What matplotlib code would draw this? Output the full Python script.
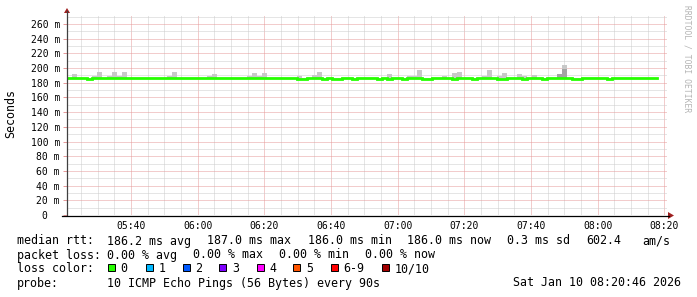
import numpy as np
import matplotlib.pyplot as plt
from matplotlib.patches import Rectangle, Polygon
from matplotlib.lines import Line2D

# 90 s samples, 05:20:46 -> 08:20:46 (minutes of day)
start = 5 * 60 + 20 + 46 / 60.
step = 1.5

nan = np.nan
median = [
    186, 186, 186, 186, 185.3, 186, 186, 186, 186, 186, 186, 186, 186, 186, 186, 186, 186, 186, 186, 186,
    186, 186, 186, 186, 186, 186, 186, 186, 186, 186, 186, 186, 186, 186, 186, 186, 186, 186, 186, 186,
    186, 186, 186, 186, 186, 186, 185.3, 185.3, 186, 186, 186, 185.3, 186, 185.3, 185.3, 186, 186, 185.3, 186, 186,
    186, 186, 185.3, 186, 185.3, 186, 186, 185.3, 186, 186, 186, 185.3, 185.3, 186, 186, 186, 186, 185.3, 186, 186,
    186, 185.3, 186, 186, 186, 186, 185.3, 185.3, 186, 186, 186, 185.3, 186, 186, 186, 185.3, 186, 186, 186, 186,
    186, 185.3, 185.3, 186, 186, 186, 186, 186, 185.3, 186, 186, 186, 186, 186, 186, 186, 186, 186, nan, nan,
]
smoke_top = [
    187, 192, 187, 187, 187, 189, 195, 187, 189, 195, 189, 195, 187, 187, 187, 187, 187, 187, 187, 187,
    189, 195, 187, 187, 187, 187, 187, 187, 189, 192, 187, 187, 187, 187, 187, 187, 189, 193, 189, 193,
    187, 187, 187, 187, 187, 187, 189, 187, 187, 190, 195, 187, 187, 187, 187, 187, 187, 187, 187, 187,
    187, 187, 187, 187, 192, 187, 187, 187, 189, 189, 197, 187, 187, 187, 187, 189, 187, 193, 195, 187,
    187, 187, 187, 189, 197, 187, 189, 193, 187, 187, 192, 189, 187, 190, 187, 187, 187, 187, 192, 204,
    187, 187, 187, 187, 187, 187, 187, 187, 187, 187, 187, 187, 187, 187, 187, 187, 187, 187, nan, nan,
]
smoke_bottom = 185.0
dark_idx = [98, 99]
dark_top = [192, 199]

xticks = [340, 360, 380, 400, 420, 440, 460, 480, 500]
xlabels = ['05:40', '06:00', '06:20', '06:40', '07:00', '07:20', '07:40', '08:00', '08:20']
yticks = list(range(0, 261, 20))

loss_labels = ['0', '1', '2', '3', '4', '5', '6-9', '10/10']
loss_colors = ['#26ff00', '#00b8ff', '#0059ff', '#7e00ff', '#ff00ff', '#ff5500', '#ff0000', '#a10000']

W, H = 697, 297
fig = plt.figure(figsize=(W / 100, H / 100), dpi=100)
fig.patch.set_facecolor('white')


def px(x, y):
    return (x / W, 1 - y / H)


ax = fig.add_axes([67 / W, 1 - 215 / H, 600 / W, 200 / H])
t = start + step * np.arange(len(median))
med = np.array(median, dtype=float)
top = np.array(smoke_top, dtype=float)

ax.set_xlim(start, start + 180)
ax.set_ylim(0, 272.25)

# smoke
ok = ~np.isnan(top)
ax.bar(t[ok], top[ok] - smoke_bottom, bottom=smoke_bottom, width=step, align='edge',
       color='#c8c8c8', linewidth=0, zorder=2)
ax.bar(t[dark_idx], np.array(dark_top) - 186, bottom=186, width=step, align='edge',
       color='#a4a4a4', linewidth=0, zorder=2)

# median line
n = int(ok.sum())
xs = np.append(t[:n], t[n - 1] + step)
ys = np.append(med[:n], med[n - 1])
ax.step(xs, ys, where='post', color='#26ff00', lw=2.0, zorder=3, solid_joinstyle='miter')

ax.set_xticks(xticks)
ax.set_xticklabels(xlabels)
ax.set_xticks([m for m in range(325, 501, 5) if m % 20], minor=True)
ax.set_yticks(yticks)
ax.set_yticklabels([f'{v} m' if v else '0  ' for v in yticks])
ax.set_yticks(list(range(10, 271, 20)), minor=True)

dot = (0, (1, 1))
ax.grid(which='minor', color='#cccccc', linestyle=dot, lw=0.72, zorder=0)
ax.grid(which='major', color='#e69a9a', linestyle=dot, lw=0.72, zorder=1)
ax.set_axisbelow(True)

for s in ax.spines.values():
    s.set_visible(False)
ax.tick_params(axis='x', which='both', length=0, pad=4.2, labelsize=7, labelfontfamily='DejaVu Sans Mono')
ax.tick_params(axis='y', which='major', length=2.9, width=0.72, color='#e69a9a', pad=2.2,
               labelsize=7, labelfontfamily='DejaVu Sans Mono')
ax.tick_params(axis='y', which='minor', length=0)

# axis lines and arrows
fig.add_artist(Line2D(*zip(px(67, 215), px(67, 11)), color='#404040', lw=0.9))
fig.add_artist(Line2D(*zip(px(62, 215.5), px(669, 215.5)), color='#000000', lw=0.9))
fig.add_artist(Polygon([px(64, 13), px(70, 13), px(67, 8)], closed=True, color='#a02020', lw=0))
fig.add_artist(Polygon([px(668, 212), px(668, 219), px(674, 215.5)], closed=True, color='#a02020', lw=0))

mono = 'DejaVu Sans Mono'
fs = 8.4
fig.text(*px(11, 114), 'Seconds', rotation=90, ha='center', va='center', family=mono, fontsize=fs)
fig.text(*px(687, 5), 'RRDTOOL / TOBI OETIKER', rotation=270, ha='center', va='top',
         family=mono, fontsize=5.8, color='#b4b4b4')

rows = [
    (241, [(16.7, 'median rtt:'), (107.3, '186.2 ms avg'), (207.3, '187.0 ms max'),
           (308, '186.0 ms min'), (407.3, '186.0 ms now'), (507.3, '0.3 ms sd'),
           (586, '602.4'), (642.3, 'am/s')]),
    (255, [(16.7, 'packet loss:'), (107.3, '0.00 % avg'), (193.3, '0.00 % max'),
           (279.3, '0.00 % min'), (365, '0.00 % now')]),
    (268.5, [(16.7, 'loss color:')]),
    (283, [(16.7, 'probe:'), (107.3, '10 ICMP Echo Pings (56 Bytes) every 90s'),
           (513.3, 'Sat Jan 10 08:20:46 2026')]),
]
for y, items in rows:
    for x, s in items:
        fig.text(*px(x, y), s, ha='left', va='center', family=mono, fontsize=fs)

box_x = [108, 145.7, 182.7, 219.3, 256.7, 293.3, 330.7, 381.7]
for bx, lab, c in zip(box_x, loss_labels, loss_colors):
    x0, y0 = px(bx, 271)
    fig.add_artist(Rectangle((x0, y0), 7 / W, 7 / H, facecolor=c, edgecolor='black', lw=0.7))
    fig.text(*px(bx + 12.5, 268.5), lab, ha='left', va='center', family=mono, fontsize=fs)

fig.savefig('out.png', dpi=100, facecolor='white')
